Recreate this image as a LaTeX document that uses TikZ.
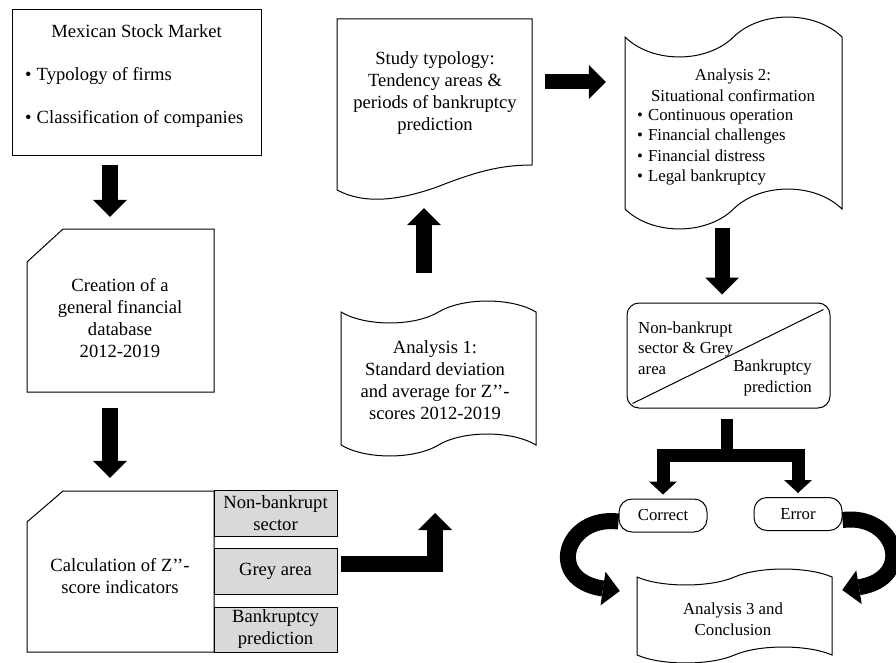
\documentclass[tikz,border=0pt]{standalone}
\usepackage{fontspec}
\setmainfont{Liberation Serif}
\usetikzlibrary{arrows.meta}

% punched tape outline: left x, right x, top y, bottom y, wave height
\newcommand{\tapeshape}[5]{%
  \draw[frame] (#1,#3)
    .. controls ({#1+(#2-#1)/8},{#3+1.33*#5}) and ({(#1+#2)/2-(#2-#1)/8},{#3+1.33*#5}) .. ({(#1+#2)/2},#3)
    .. controls ({(#1+#2)/2+(#2-#1)/8},{#3-1.33*#5}) and ({#2-(#2-#1)/8},{#3-1.33*#5}) .. (#2,#3)
    -- (#2,#4)
    .. controls ({#2-(#2-#1)/8},{#4-1.33*#5}) and ({(#1+#2)/2+(#2-#1)/8},{#4-1.33*#5}) .. ({(#1+#2)/2},#4)
    .. controls ({(#1+#2)/2-(#2-#1)/8},{#4+1.33*#5}) and ({#1+(#2-#1)/8},{#4+1.33*#5}) .. (#1,#4)
    -- cycle;}

\begin{document}
\begin{tikzpicture}[x=1pt, y=-1pt,
    big/.style={font=\fontsize{18.6}{22}\selectfont, align=center},
    small/.style={font=\fontsize{16.8}{20.5}\selectfont, align=center},
    frame/.style={draw, line width=1pt},
    hull/.style={inner sep=0pt},
    greybox/.style={frame, big, fill=gray!30, minimum width=123pt, inner sep=0pt},
    pill/.style={frame, small, rounded corners=13pt, minimum width=88pt, minimum height=33pt},
    blk/.style={line width=16pt, -{Triangle[length=17pt, width=34pt, line width=0pt]}},
    thinblk/.style={line width=13pt, line join=miter}]
    \useasboundingbox (0,0) rectangle (896,663);

    % left column
    \node[frame, minimum width=249pt, minimum height=146pt] (mkt) at (136.5,83) {};
    \node[big] (mkttitle) at (136.5,31) {Mexican Stock Market};
    \node[big, align=left, anchor=west, inner sep=0pt] (mktlist) at (25,97.5)
        {\textbullet\hspace{5pt}Typology of firms\\[21pt]\textbullet\hspace{5pt}Classification of companies};

    \node[hull, minimum width=187pt, minimum height=163pt] (db) at (120.5,310.5) {};
    \draw[frame] (63,229) -- (214,229) -- (214,392) -- (27,392) -- (27,262) -- cycle;
    \node[big] (dbtext) at (120,318) {Creation of a\\general financial\\database\\2012-2019};

    \node[hull, minimum width=187pt, minimum height=161pt] (calc) at (120.5,571.5) {};
    \draw[frame] (63,491) -- (214,491) -- (214,652) -- (27,652) -- (27,522) -- cycle;
    \node[big] (calctext) at (120,576.5) {Calculation of Z’’-\\score indicators};

    \node[greybox, minimum height=46pt] (nonbank) at (275.5,513) {Non-bankrupt\\sector};
    \node[greybox, minimum height=46pt] (grey) at (275.5,571) {Grey area};
    \node[greybox, minimum height=45pt] (bankr) at (275.5,629.5) {Bankruptcy\\prediction};

    % middle column
    \node[hull, minimum width=195pt, minimum height=171pt] (study) at (434.5,104.5) {};
    \draw[frame] (337,190) -- (337,19) -- (532,19) -- (532,165)
        .. controls (500,165) and (475,172) .. (437,187)
        .. controls (400,200) and (365,205) .. (337,190) -- cycle;
    \node[big] (studytext) at (435,93.5) {Study typology:\\Tendency areas \&\\periods of bankruptcy\\prediction};

    \node[hull, minimum width=195pt, minimum height=133pt] (ana1) at (438.5,378.5) {};
    \tapeshape{341}{536}{312}{445}{11}
    \node[big] (ana1text) at (435,380) {Analysis 1:\\Standard deviation\\and average for Z’’-\\scores 2012-2019};

    % right column
    \node[hull, minimum width=217pt, minimum height=172pt] (ana2) at (733.5,123) {};
    \tapeshape{625}{842}{37}{209}{20}
    \node[small] (ana2title) at (733,85.5) {Analysis 2:\\Situational confirmation};
    \node[small, align=left, anchor=west, inner sep=0pt] (ana2list) at (637,147.5)
        {\textbullet\hspace{5pt}Continuous operation\\\textbullet\hspace{5pt}Financial challenges\\
         \textbullet\hspace{5pt}Financial distress\\\textbullet\hspace{5pt}Legal bankruptcy};

    \node[frame, rounded corners=12pt, minimum width=203pt, minimum height=105pt] (diag) at (728.5,355.5) {};
    \draw[line width=1pt] ([xshift=6pt,yshift=5pt]diag.south west) -- ([xshift=-7pt,yshift=-7pt]diag.north east);
    \node[small, align=left, anchor=west, inner sep=0pt] (diagtl) at (638,348) {Non-bankrupt\\sector \& Grey\\area};
    \node[small, align=right, anchor=east, inner sep=0pt] (diagbr) at (812,378) {Bankruptcy\\prediction};

    \node[pill] (correct) at (663,515.5) {Correct};
    \node[pill] (error) at (798,514) {Error};

    \node[hull, minimum width=195pt, minimum height=78pt] (ana3) at (734.5,616) {};
    \tapeshape{637}{832}{577}{655}{8}
    \node[small] (ana3text) at (733,619) {Analysis 3 and\\Conclusion};

    % block arrows
    \draw[blk, shorten <=9pt, shorten >=12pt] ([xshift=-26.5pt]mkt.south) -- ([xshift=-10.5pt]db.north);
    \draw[blk, shorten <=16pt, shorten >=13pt] ([xshift=-10.5pt]db.south) -- ([xshift=-10.5pt]calc.north);
    \coordinate (ltip) at (435,513);
    \draw[blk] ([xshift=3pt,yshift=7pt]grey.east) -| (ltip);
    \draw[blk, shorten <=39pt, shorten >=18pt] ([xshift=-14.5pt]ana1.north) -- ([xshift=-10.5pt]study.south);
    \draw[blk, line width=15pt, shorten <=13pt, shorten >=19pt] ([yshift=22.5pt]study.east) -- ([yshift=41pt]ana2.west);
    \draw[blk, line width=15pt, shorten <=19pt, shorten >=8pt] ([xshift=-11.5pt]ana2.south) -- ([xshift=-6.5pt]diag.north);

    \coordinate (fork) at (727,455);
    \draw[line width=12pt] ([xshift=-1.5pt,yshift=-10pt]diag.south) -- (fork);
    \draw[thinblk, {Triangle[length=13pt, width=28pt, line width=0pt]}-{Triangle[length=13pt, width=28pt, line width=0pt]}]
        ([yshift=4pt]correct.north) |- (fork) -| ([yshift=4pt]error.north);

    \draw[blk] ([yshift=-6pt]correct.west) .. controls (565,515) and (545,580) .. ([xshift=-17pt,yshift=25pt]ana3.west);
    \draw[blk] ([yshift=-6pt]error.east) .. controls (896,513) and (916,578) .. ([xshift=10pt,yshift=26pt]ana3.east);
\end{tikzpicture}
\end{document}
